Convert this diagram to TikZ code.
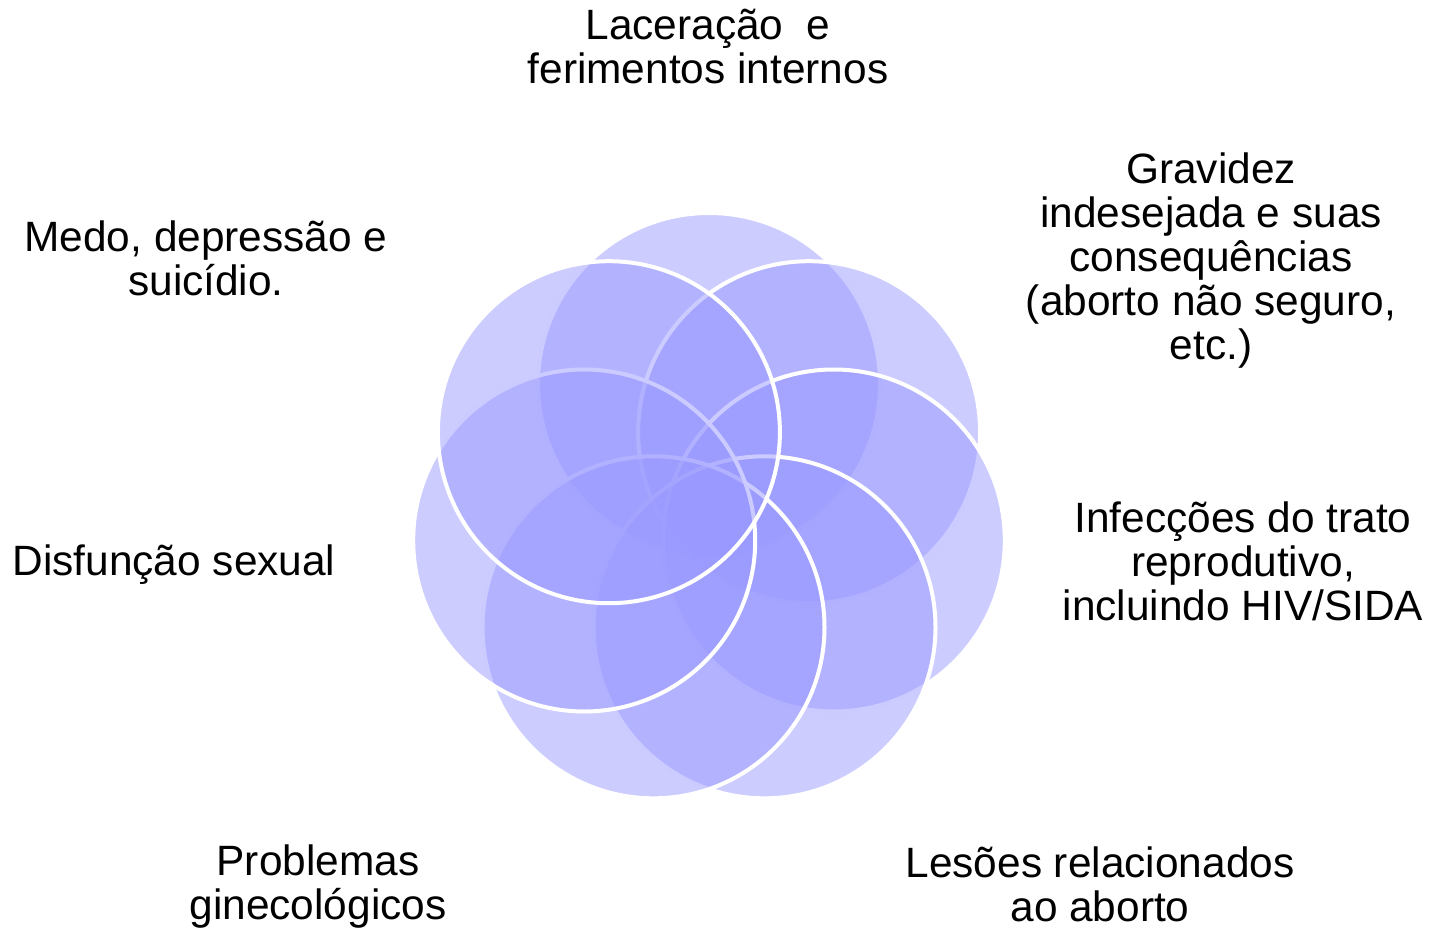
\documentclass[tikz,border=0pt]{standalone}
\usepackage{fontspec}
\setmainfont{Liberation Sans}
\definecolor{petalc}{RGB}{153,153,255}
\tikzset{
  petal/.style={circle, minimum size=342pt, inner sep=0pt, fill=petalc, fill opacity=0.5, draw=white, draw opacity=1, line width=4pt},
  lbl/.style={align=center, font=\fontsize{42.4}{44}\selectfont, inner sep=0pt, text=black}
}
\begin{document}
\begin{tikzpicture}[x=1pt,y=-1pt]
\useasboundingbox (0,0) rectangle (1435,929);
\node[petal] (c1) at (709.0,384.0) {};
\node[petal] (c2) at (809.1,432.2) {};
\node[petal] (c3) at (833.8,540.5) {};
\node[petal] (c4) at (764.5,627.3) {};
\node[petal] (c5) at (653.5,627.3) {};
\node[petal] (c6) at (584.2,540.5) {};
\node[petal] (c7) at (608.9,432.2) {};
\node[lbl] (t1) at (708,46) {Laceração\ \ e\\ferimentos internos};
\node[lbl] (t2) at (1211,261) {Gravidez\\indesejada e suas\\consequências\\(aborto não seguro,\\etc.)};
\node[lbl] (t3) at (1243,561) {Infecções do trato\\reprodutivo,\\incluindo HIV/SIDA};
\node[lbl] (t4) at (1100,884) {Lesões relacionados\\ao aborto};
\node[lbl] (t5) at (318,887) {Problemas\\ginecológicos};
\node[lbl] (t6) at (174,565) {Disfunção sexual};
\node[lbl] (t7) at (206,258) {Medo, depressão e\\suicídio.};
\end{tikzpicture}
\end{document}
